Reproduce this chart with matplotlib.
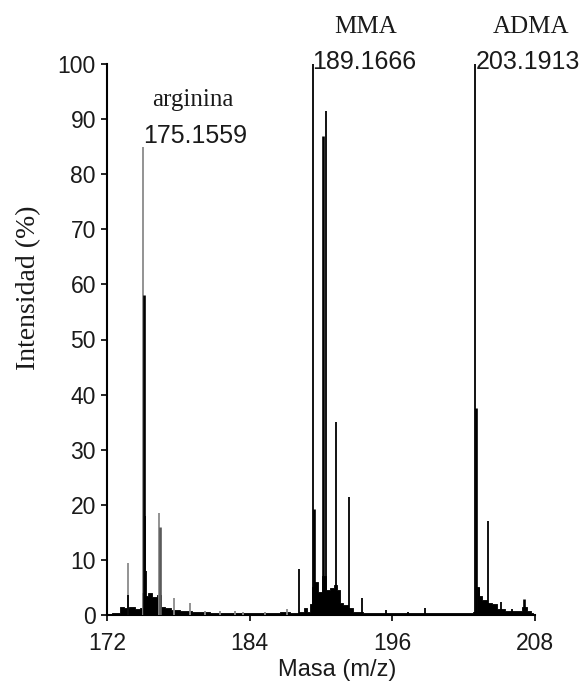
import matplotlib
matplotlib.use("Agg")
import matplotlib.pyplot as plt
import numpy as np

# ---- data ----
# stick peaks: m/z and relative intensity (%)
peak_mz = [173.74, 173.79, 175.07, 175.11, 175.19, 175.28, 176.39, 176.44, 177.63, 178.97,
           180.24, 181.50, 182.76, 183.40, 185.28, 187.18,
           188.18, 189.29, 189.44, 190.18, 190.38, 191.29, 192.36, 193.43, 195.45, 197.35, 198.72,
           202.98, 203.07, 203.29, 204.06, 205.11, 206.06, 207.07]
peak_int = [9.5, 3.6, 85.0, 58.0, 18.0, 8.0, 18.5, 16.0, 3.1, 2.2,
            0.8, 0.7, 0.8, 0.6, 0.5, 1.0,
            8.3, 100.0, 19.2, 87.0, 91.5, 35.0, 21.5, 3.0, 0.9, 0.6, 1.2,
            100.0, 37.5, 4.9, 17.0, 2.4, 1.0, 2.9]
# which peaks are drawn grey (arginine region) / thick
peak_grey = [True, False, True, False, False, False, True, True, True, True,
             True, True, True, True, True, True,
             False, False, False, False, False, False, False, False, False, False, False,
             False, False, False, False, False, False, False]
peak_thick = [False, False, False, True, False, False, False, True, False, False,
              False, False, False, False, False, False,
              False, False, True, True, False, False, False, False, False, False, False,
              False, True, False, False, False, False, True]

# dense low-level signal profile (envelope)
base_mz = [172.0, 172.92, 173.26, 173.60, 174.10, 174.61, 174.86, 175.11, 175.36, 175.61,
           176.03, 176.45, 176.71, 177.13, 177.71, 178.55, 179.82, 181.50, 184.02, 186.12,
           186.96, 187.80, 188.47, 188.72, 188.97, 189.14, 189.31, 189.56, 189.90, 190.24,
           190.57, 190.91, 191.24, 191.50, 191.66, 192.08, 192.50, 192.92, 194.10, 196.62,
           199.98, 202.50, 203.00, 203.17, 203.43, 203.68, 204.19, 204.61, 205.03, 205.87,
           206.71, 207.13, 207.55, 207.80]
base_int = [0.0, 0.3, 1.5, 1.2, 1.5, 1.0, 1.2, 4.0, 3.5, 4.0,
            3.3, 3.6, 1.5, 1.2, 0.9, 0.7, 0.5, 0.4, 0.3, 0.3,
            0.6, 0.4, 0.5, 1.2, 0.6, 2.0, 5.0, 6.0, 4.2, 7.0,
            4.5, 4.9, 5.4, 4.5, 2.2, 1.8, 1.3, 0.6, 0.4, 0.3,
            0.3, 0.3, 0.5, 5.0, 3.5, 2.8, 2.2, 2.0, 1.0, 0.8,
            0.8, 1.5, 0.8, 0.3]

x_ticks = [172, 184, 196, 208]
y_ticks = [0, 10, 20, 30, 40, 50, 60, 70, 80, 90, 100]

# ---- figure ----
W, H = 588, 683
fig = plt.figure(figsize=(W / 100, H / 100), dpi=100)
ax = fig.add_axes([107 / W, 1 - 615 / H, (535 - 107) / W, (615 - 64) / H])

SANS = ["Liberation Sans", "DejaVu Sans"]
SERIF = ["Liberation Serif", "DejaVu Serif"]
TXT = "#1a1a1a"

ax.fill_between(base_mz, 0, base_int, step="mid", color="black", lw=0.6, zorder=2)

for mz, it, g, t in zip(peak_mz, peak_int, peak_grey, peak_thick):
    col = "#8a8a8a" if g else "black"
    if g and t:
        col = "#5a5a5a"
    ax.vlines(mz, 0, it, colors=col, lw=1.9 if t else 1.3, zorder=3)

ax.set_xlim(172, 208)
ax.set_ylim(0, 100)
for s in ("top", "right"):
    ax.spines[s].set_visible(False)
for s in ("left", "bottom"):
    ax.spines[s].set_linewidth(1.5)
    ax.spines[s].set_color("black")

ax.set_xticks(x_ticks)
ax.set_yticks(y_ticks)
ax.tick_params(axis="both", direction="out", length=4, width=1.2, color="black",
               labelsize=16.5, labelcolor=TXT)
ax.tick_params(axis="x", pad=8)
ax.tick_params(axis="y", pad=4)
for lab in ax.get_xticklabels() + ax.get_yticklabels():
    lab.set_fontfamily(SANS)

ax.set_xlabel("Masa (m/z)", fontsize=17, family=SANS, color=TXT)
ax.xaxis.set_label_coords((337 - 107) / (535 - 107), -(670 - 615) / (615 - 64))
ax.xaxis.label.set_va("center")
ax.set_ylabel("Intensidad (%)", fontsize=20, family=SERIF, color=TXT)
ax.yaxis.set_label_coords((29 - 107) / (535 - 107), (615 - 288) / (615 - 64))
ax.yaxis.label.set_va("center")

def py(p):
    return (615 - p) / 5.51

def px(p):
    return 172 + (p - 107) / 11.9

# annotations
ax.text(175.07, py(136), "175.1559", fontsize=18, family=SANS, color=TXT,
        ha="left", va="center")
ax.text(px(193), py(100), "arginina", fontsize=18, family=SERIF, color=TXT,
        ha="center", va="center")
ax.text(189.29, py(62), "189.1666", fontsize=18, family=SANS, color=TXT,
        ha="left", va="center")
ax.text(px(366), py(27), "MMA", fontsize=18, family=SERIF, color=TXT,
        ha="center", va="center")
ax.text(202.98, py(62), "203.1913", fontsize=18, family=SANS, color=TXT,
        ha="left", va="center")
ax.text(px(531), py(27), "ADMA", fontsize=18, family=SERIF, color=TXT,
        ha="center", va="center")

fig.savefig("out.png", dpi=100)
